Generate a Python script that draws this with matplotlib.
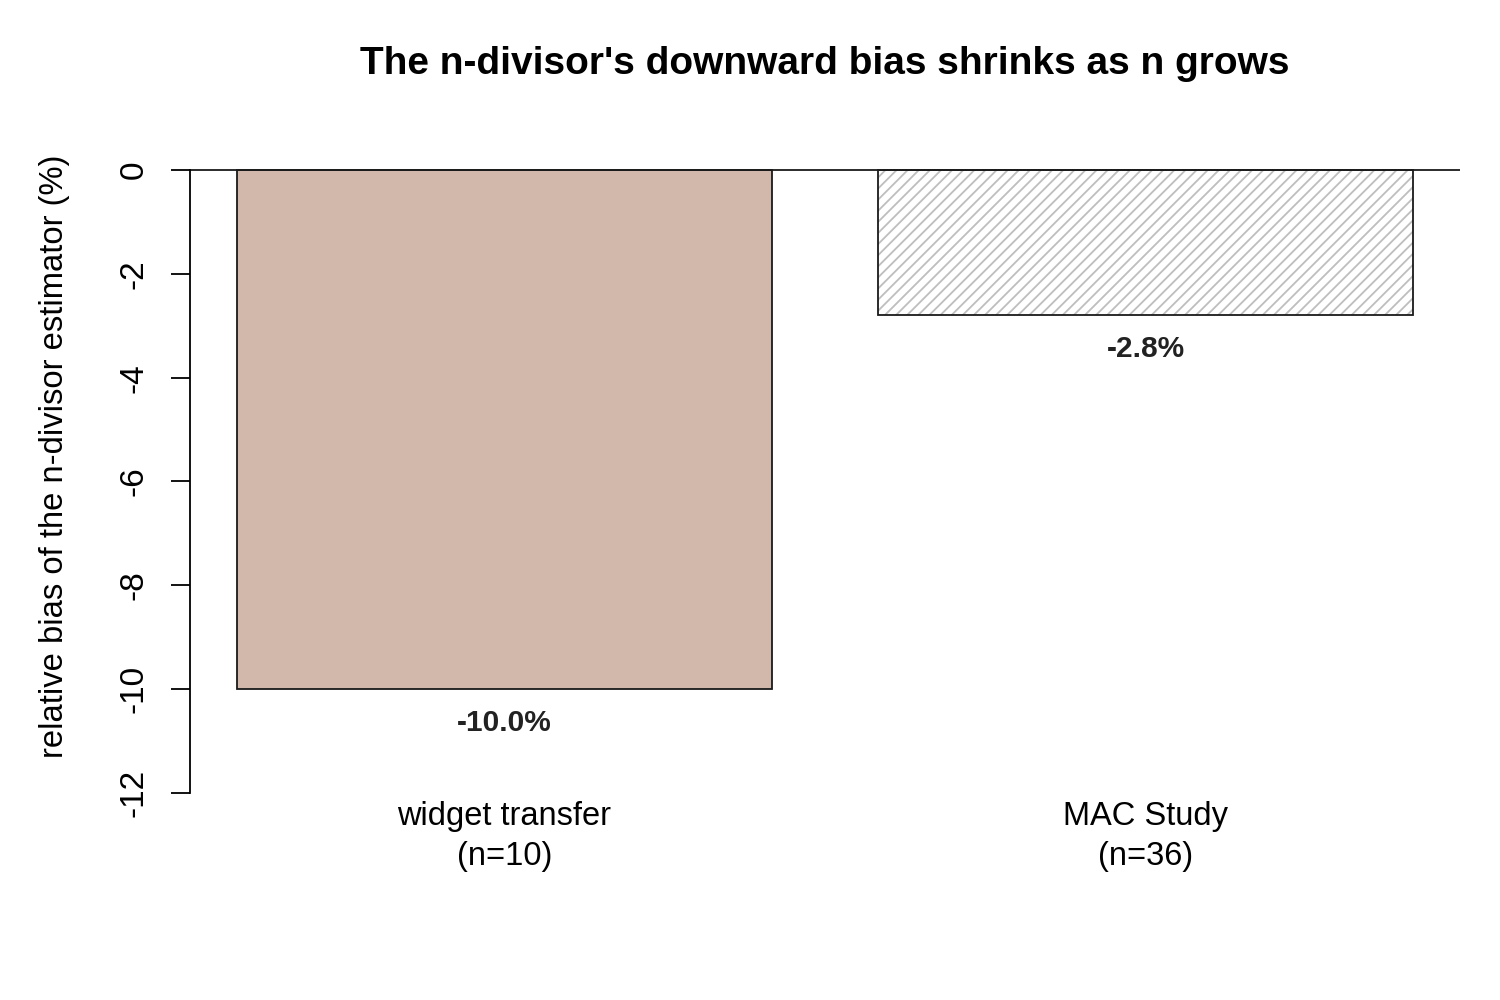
import matplotlib
matplotlib.use("Agg")
from matplotlib import pyplot as plt

plt.rcParams['font.family'] = ['Liberation Sans', 'DejaVu Sans']
plt.rcParams['hatch.linewidth'] = 1.3

# data
categories = ["widget transfer\n(n=10)", "MAC Study\n(n=36)"]
bias_pct = [-10.0, -2.8]
value_labels = ["-10.0%", "-2.8%"]
y_ticks = [0, -2, -4, -6, -8, -10, -12]

fig = plt.figure(figsize=(15, 10), dpi=100)
ax = fig.add_axes([190 / 1500, 1 - 818 / 1000, 1270 / 1500, 673 / 1000])

# R barplot layout: width 1, space 0.2
x_pos = [0.7, 1.9]
ax.bar(x_pos[0], bias_pct[0], width=1.0, color="#D2B8AA",
       edgecolor="#1a1a1a", linewidth=1.3)
ax.bar(x_pos[1], bias_pct[1], width=1.0, color="white",
       edgecolor="#bebebe", linewidth=0, hatch="///")
ax.bar(x_pos[1], bias_pct[1], width=1.0, fill=False,
       edgecolor="#1a1a1a", linewidth=1.3)

ax.axhline(0, color="#1a1a1a", linewidth=1.3)

for x, v, lab in zip(x_pos, bias_pct, value_labels):
    ax.annotate(lab, (x, v), xytext=(0, -34), textcoords="offset pixels",
                ha="center", va="center", fontsize=21.5, fontweight="bold",
                color="#222222")

ax.set_xlim(0.112, 2.488)
ax.set_ylim(-12.48, 0.48)

ax.set_yticks(y_ticks)
ax.set_yticklabels([str(t) for t in y_ticks], rotation=90, va="center",
                   fontsize=24)
ax.tick_params(axis="y", length=14, width=1.3, pad=15)

ax.set_xticks(x_pos)
ax.set_xticklabels(categories, fontsize=23.5, linespacing=1.38)
ax.tick_params(axis="x", length=0, pad=-12)

for s in ["top", "right", "bottom"]:
    ax.spines[s].set_visible(False)
ax.spines["left"].set_bounds(-12, 0)
ax.spines["left"].set_linewidth(1.3)

fig.text(55 / 1500, 1 - 456 / 1000, "relative bias of the n-divisor estimator (%)",
         rotation=90, ha="center", va="center", fontsize=23.6)
fig.text(825 / 1500, 1 - 64 / 1000, "The n-divisor's downward bias shrinks as n grows",
         ha="center", va="center", fontsize=28, fontweight="bold")

fig.savefig("out.png", dpi=100)
